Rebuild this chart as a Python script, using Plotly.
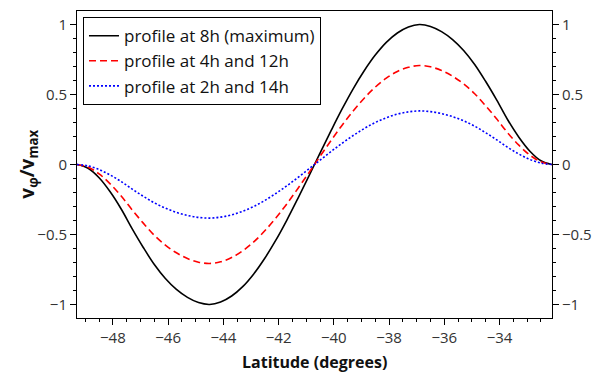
import plotly.graph_objects as go

# Latitude samples (degrees), 0.4 degree spacing
lat = [-49.3, -48.9, -48.5, -48.1, -47.7, -47.3, -46.9, -46.5, -46.1, -45.7, -45.3,
       -44.9, -44.5, -44.1, -43.7, -43.3, -42.9, -42.5, -42.1, -41.7, -41.3, -40.9,
       -40.5, -40.1, -39.7, -39.3, -38.9, -38.5, -38.1, -37.7, -37.3, -36.9, -36.5,
       -36.1, -35.7, -35.3, -34.9, -34.5, -34.1, -33.7, -33.3, -32.9, -32.5, -32.1]

# Normalised azimuthal velocity profiles
v_8h = [0, -0.027, -0.095, -0.195, -0.318, -0.46, -0.593, -0.715, -0.815, -0.893, -0.95,
        -0.987, -1.0, -0.983, -0.94, -0.873, -0.782, -0.67, -0.541, -0.397, -0.242, -0.082,
        0.082, 0.242, 0.397, 0.541, 0.67, 0.782, 0.873, 0.94, 0.983, 1.0, 0.987,
        0.95, 0.893, 0.815, 0.715, 0.593, 0.46, 0.318, 0.195, 0.095, 0.027, 0]
v_4h_12h = [0, -0.019, -0.067, -0.138, -0.225, -0.325, -0.419, -0.506, -0.576, -0.631, -0.672,
            -0.698, -0.707, -0.695, -0.665, -0.617, -0.553, -0.474, -0.382, -0.281, -0.171, -0.058,
            0.058, 0.171, 0.281, 0.382, 0.474, 0.553, 0.617, 0.665, 0.695, 0.707, 0.698,
            0.672, 0.631, 0.576, 0.506, 0.419, 0.325, 0.225, 0.138, 0.067, 0.019, 0]
v_2h_14h = [0, -0.010, -0.036, -0.075, -0.122, -0.176, -0.227, -0.274, -0.312, -0.342, -0.364,
            -0.378, -0.383, -0.376, -0.360, -0.334, -0.300, -0.257, -0.207, -0.152, -0.093, -0.031,
            0.031, 0.093, 0.152, 0.207, 0.257, 0.300, 0.334, 0.360, 0.376, 0.383, 0.378,
            0.364, 0.342, 0.312, 0.274, 0.227, 0.176, 0.122, 0.075, 0.036, 0.010, 0]

x_ticks = [-48, -46, -44, -42, -40, -38, -36, -34]
y_ticks = [-1, -0.5, 0, 0.5, 1]
y_tick_text = ["\u22121", "\u22120.5", "0", "0.5", "1"]

FONT = "Open Sans, Noto Sans, sans-serif"
TXT = "#333333"

fig = go.Figure()
fig.add_trace(go.Scatter(x=lat, y=v_8h, mode="lines", name="profile at 8h (maximum)",
                         line=dict(color="black", width=1.6, shape="spline", smoothing=1)))
fig.add_trace(go.Scatter(x=lat, y=v_4h_12h, mode="lines", name="profile at 4h and 12h",
                         line=dict(color="red", width=1.6, dash="7px,4px", shape="spline", smoothing=1)))
fig.add_trace(go.Scatter(x=lat, y=v_2h_14h, mode="lines", name="profile at 2h and 14h",
                         line=dict(color="blue", width=1.6, dash="2px,2px", shape="spline", smoothing=1)))
# companion trace so the right-hand axis is drawn
fig.add_trace(go.Scatter(x=lat, y=v_8h, yaxis="y2", mode="lines", showlegend=False,
                         hoverinfo="skip", line=dict(color="rgba(0,0,0,0)", width=0)))

y_range = [-1.097, 1.097]
common_y = dict(range=y_range, tickvals=y_ticks, ticktext=y_tick_text, ticks="outside",
                ticklen=6, tickwidth=1, tickcolor="black", showgrid=False, zeroline=False,
                showline=True, linecolor="black", linewidth=1, automargin=False,
                tickfont=dict(family=FONT, size=15, color=TXT),
                minor=dict(ticks="outside", ticklen=3, tickcolor="black", dtick=0.1, showgrid=False))

fig.update_layout(
    width=606, height=374,
    margin=dict(l=77, r=54, t=11, b=56),
    paper_bgcolor="white", plot_bgcolor="white",
    font=dict(family=FONT, size=15, color=TXT),
    xaxis=dict(range=[-49.3, -32.1], tickvals=x_ticks,
               ticktext=["\u2212" + str(abs(t)) for t in x_ticks],
               ticks="outside", ticklen=6, tickcolor="black", showgrid=False, zeroline=False,
               showline=True, mirror=True, linecolor="black", linewidth=1, automargin=False,
               tickfont=dict(family=FONT, size=15, color=TXT),
               minor=dict(ticks="outside", ticklen=3, tickcolor="black", dtick=0.5, showgrid=False)),
    yaxis=dict(**common_y, mirror=True),
    yaxis2=dict(**common_y, overlaying="y", side="right"),
    legend=dict(x=0.0126, y=0.98, xanchor="left", yanchor="top",
                bgcolor="white", bordercolor="black", borderwidth=1,
                font=dict(family=FONT, size=17, color="#111111"),
                tracegroupgap=0, itemwidth=30),
    showlegend=True,
    annotations=[
        dict(text="<b>Latitude (degrees)</b>", xref="paper", yref="paper",
             x=0.5, y=-0.143, xanchor="center", yanchor="middle", showarrow=False,
             font=dict(family=FONT, size=16, color="#111111")),
        dict(text="<b>v<sub>\u03c6</sub>/v<sub>max</sub></b>", xref="paper", yref="paper",
             x=-0.105, y=0.5, xanchor="center", yanchor="middle", textangle=-90,
             showarrow=False, font=dict(family=FONT, size=19, color="#111111")),
    ],
)

fig.write_html("out.html")
